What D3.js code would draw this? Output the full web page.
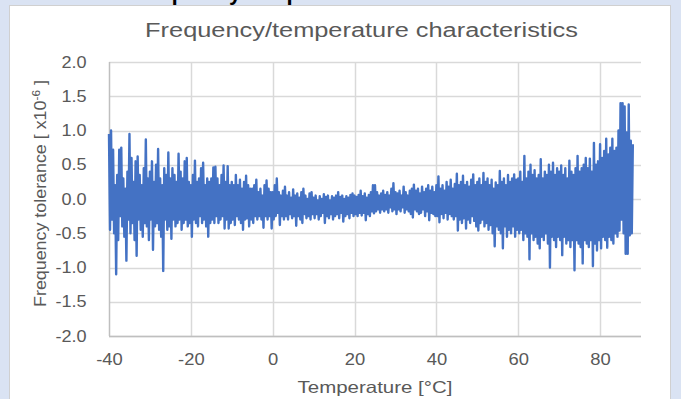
<!DOCTYPE html>
<html>
<head>
<meta charset="utf-8">
<script src="https://cdn.jsdelivr.net/npm/d3@7"></script>
<style>
  html, body { margin: 0; padding: 0; background: #dae3f3; }
  svg { display: block; }
</style>
</head>
<body>
<svg id="chart" width="681" height="399"></svg>
<script>
// axis settings
const xTicks = [-40, -20, 0, 20, 40, 60, 80];
const yTicks = [-2.0, -1.5, -1.0, -0.5, 0.0, 0.5, 1.0, 1.5, 2.0];
const tStart = -40;   // first sample [°C]
const tStep = 0.25;   // sample spacing [°C]

// frequency tolerance [x10^-6], one value per sample
// (20 samples = 5 °C per row)
const tolerance = [
  0.95, -0.45, 1.00, -0.30, 0.72, -0.50, 0.20, -1.10, 0.35, -0.60, 0.72, -0.25, 0.75, -0.40, 0.30, -0.55, 0.15, -0.90, 0.40, -0.30,
  0.95, -0.50, 0.60, -0.35, 0.25, -0.60, 0.55, -0.83, 0.62, -0.30, 0.35, -0.45, 0.20, -0.55, 0.45, -0.35, 0.87, -0.40, 0.30, -0.60,
  0.40, -0.30, 0.55, -0.74, 0.25, -0.40, 0.50, -0.35, 0.73, -0.45, 0.30, -0.55, 0.20, -1.05, 0.45, -0.30, 0.35, -0.45, 0.68, -0.40,
  0.30, -0.58, 0.45, -0.30, 0.35, -0.40, 0.25, -0.35, 0.66, -0.30, 0.40, -0.45, 0.30, -0.35, 0.55, -0.30, 0.60, -0.40, 0.25, -0.35,
  0.20, -0.55, 0.35, -0.30, 0.56, -0.35, 0.25, -0.40, 0.30, -0.25, 0.45, -0.35, 0.53, -0.30, 0.20, -0.40, 0.30, -0.55, 0.25, -0.35,
  0.30, -0.30, 0.46, -0.35, 0.47, -0.25, 0.30, -0.35, 0.20, -0.30, 0.35, -0.25, 0.49, -0.43, 0.25, -0.30, 0.48, -0.43, 0.20, -0.35,
  0.25, -0.30, 0.20, -0.38, 0.35, -0.25, 0.20, -0.30, 0.28, -0.35, 0.15, -0.45, 0.25, -0.30, 0.34, -0.28, 0.20, -0.40, 0.15, -0.30,
  0.15, -0.35, 0.20, -0.25, 0.28, -0.30, 0.10, -0.25, 0.15, -0.30, 0.05, -0.42, 0.20, -0.25, 0.27, -0.30, 0.15, -0.25, 0.10, -0.43,
  0.10, -0.30, 0.20, -0.25, 0.30, -0.20, 0.10, -0.38, 0.05, -0.25, 0.12, -0.30, 0.18, -0.25, 0.05, -0.30, 0.10, -0.22, 0.02, -0.28,
  0.14, -0.25, 0.05, -0.39, 0.08, -0.25, 0.02, -0.30, 0.10, -0.35, 0.15, -0.22, 0.05, -0.28, 0.00, -0.25, 0.08, -0.30, 0.10, -0.22,
  0.02, -0.28, 0.05, -0.22, -0.02, -0.30, 0.04, -0.25, 0.00, -0.20, 0.07, -0.35, 0.03, -0.25, 0.05, -0.28, -0.02, -0.22, 0.04, -0.30,
  0.02, -0.25, 0.05, -0.22, 0.10, -0.28, 0.03, -0.20, 0.05, -0.33, 0.00, -0.25, 0.04, -0.22, 0.02, -0.28, 0.06, -0.20, 0.08, -0.25,
  0.05, -0.22, 0.03, -0.25, 0.06, -0.20, 0.12, -0.24, 0.04, -0.20, 0.08, -0.31, 0.02, -0.22, 0.06, -0.25, 0.10, -0.18, 0.20, -0.21,
  0.20, -0.18, 0.10, -0.15, 0.05, -0.20, 0.08, -0.15, 0.12, -0.18, 0.06, -0.15, 0.10, -0.20, 0.05, -0.12, 0.15, -0.18, 0.23, -0.15,
  0.10, -0.22, 0.08, -0.15, 0.12, -0.18, 0.05, -0.12, 0.18, -0.20, 0.10, -0.15, 0.05, -0.18, 0.12, -0.22, 0.15, -0.27, 0.21, -0.15,
  0.12, -0.18, 0.15, -0.22, 0.08, -0.20, 0.18, -0.15, 0.10, -0.25, 0.15, -0.18, 0.20, -0.31, 0.12, -0.20, 0.18, -0.22, 0.10, -0.25,
  0.20, -0.25, 0.33, -0.34, 0.15, -0.22, 0.20, -0.28, 0.12, -0.20, 0.25, -0.30, 0.18, -0.22, 0.28, -0.25, 0.15, -0.30, 0.22, -0.25,
  0.37, -0.46, 0.20, -0.30, 0.25, -0.35, 0.34, -0.28, 0.20, -0.43, 0.25, -0.30, 0.18, -0.35, 0.28, -0.25, 0.36, -0.32, 0.20, -0.40,
  0.25, -0.46, 0.30, -0.35, 0.20, -0.30, 0.38, -0.40, 0.25, -0.35, 0.30, -0.45, 0.20, -0.38, 0.28, -0.50, 0.15, -0.69, 0.24, -0.40,
  0.20, -0.45, 0.41, -0.50, 0.25, -0.72, 0.30, -0.40, 0.20, -0.55, 0.35, -0.45, 0.25, -0.50, 0.30, -0.40, 0.36, -0.55, 0.28, -0.45,
  0.30, -0.50, 0.40, -0.45, 0.25, -0.60, 0.63, -0.50, 0.30, -0.55, 0.40, -0.88, 0.50, -0.50, 0.35, -0.60, 0.42, -0.55, 0.30, -0.65,
  0.35, -0.72, 0.58, -0.55, 0.30, -0.60, 0.40, -0.50, 0.35, -0.65, 0.50, -1.00, 0.40, -0.55, 0.53, -0.60, 0.35, -0.70, 0.45, -0.55,
  0.40, -0.60, 0.49, -0.82, 0.35, -0.55, 0.45, -0.65, 0.30, -0.60, 0.56, -0.70, 0.40, -0.60, 0.35, -1.04, 0.45, -0.60, 0.63, -0.65,
  0.40, -0.70, 0.45, -0.94, 0.50, -0.60, 0.60, -0.65, 0.45, -0.70, 0.59, -0.60, 0.40, -0.98, 0.82, -0.65, 0.50, -0.75, 0.55, -0.60,
  0.80, -0.72, 0.60, -0.55, 0.70, -0.60, 0.88, -0.71, 0.65, -0.55, 0.75, -0.60, 0.88, -0.65, 0.70, -0.50, 0.75, -0.55, 1.00, -0.46,
  1.40, -0.30, 1.40, -0.50, 1.35, -0.80, 0.97, -0.80, 1.38, -0.53, 0.85, -0.50, 0.80
];

const data = tolerance.map((v, i) => ({ t: tStart + i * tStep, v: v }));

const svg = d3.select('#chart');
const font = 'Liberation Sans, Arial, sans-serif';
const grey = '#595959';
const hyphen = (s) => s.replace('\u2212', '-');

// stretch a centred text horizontally (in its own frame) to a given length
function fitLength(sel, len) {
  const w = sel.node().getComputedTextLength();
  const t = sel.attr('data-pos');
  sel.attr('transform', t + ' scale(' + (len / w) + ',1)');
}

// cut-off heading above the chart panel
svg.append('text')
  .attr('x', 130)
  .attr('y', -0.5)
  .attr('font-family', font)
  .attr('font-size', 22)
  .attr('font-weight', 'bold')
  .attr('fill', '#000')
  .text('Frequency/temperature');

// white chart panel
svg.append('rect')
  .attr('x', 9.5)
  .attr('y', 5.5)
  .attr('width', 661)
  .attr('height', 400)
  .attr('fill', '#fff')
  .attr('stroke', '#d0d0d0');

const x = d3.scaleLinear().domain([-40, 90]).range([109, 641]);
const y = d3.scaleLinear().domain([-2, 2]).range([336, 62]);

// horizontal gridlines
svg.append('g')
  .selectAll('line')
  .data(yTicks)
  .enter()
  .append('line')
    .attr('x1', x(-40))
    .attr('x2', x(90))
    .attr('y1', (d) => Math.round(y(d)) + 0.5)
    .attr('y2', (d) => Math.round(y(d)) + 0.5)
    .attr('stroke', '#d9d9d9')
    .attr('stroke-width', 1.5);

// vertical gridlines
svg.append('g')
  .selectAll('line')
  .data(xTicks)
  .enter()
  .append('line')
    .attr('x1', (d) => Math.round(x(d)) + 0.5)
    .attr('x2', (d) => Math.round(x(d)) + 0.5)
    .attr('y1', y(2))
    .attr('y2', y(-2))
    .attr('stroke', (d) => d == -40 ? '#bfbfbf' : '#d9d9d9')
    .attr('stroke-width', 1.5);

// bottom axis line
svg.append('line')
  .attr('x1', x(-40))
  .attr('x2', x(90))
  .attr('y1', Math.round(y(-2)) + 0.5)
  .attr('y2', Math.round(y(-2)) + 0.5)
  .attr('stroke', '#bfbfbf')
  .attr('stroke-width', 1.5);

// X axis labels
const xAxis = svg.append('g')
  .attr('transform', 'translate(0,' + (y(-2) + 15) + ')')
  .call(d3.axisBottom(x).tickValues(xTicks).tickSize(0).tickFormat((d) => hyphen(d3.format('d')(d))));
xAxis.select('.domain').remove();
xAxis.selectAll('text')
  .attr('font-family', font)
  .attr('font-size', 16)
  .attr('fill', grey)
  .attr('transform', 'scale(1.15,1)');

// Y axis labels
const yAxis = svg.append('g')
  .attr('transform', 'translate(' + (x(-40) - 19) + ',0)')
  .call(d3.axisLeft(y).tickValues(yTicks).tickSize(0).tickFormat((d) => hyphen(d3.format('.1f')(d))));
yAxis.select('.domain').remove();
yAxis.selectAll('text')
  .attr('font-family', font)
  .attr('font-size', 16)
  .attr('fill', grey)
  .attr('transform', 'scale(1.13,1)');

// trace
const line = d3.line()
  .x((d) => x(d.t))
  .y((d) => y(d.v));
svg.append('path')
  .datum(data)
  .attr('d', line)
  .attr('fill', 'none')
  .attr('stroke', '#4472c4')
  .attr('stroke-width', 2.4)
  .attr('stroke-linejoin', 'round');

// title
const title = svg.append('text')
  .attr('data-pos', 'translate(361.5,37)')
  .attr('text-anchor', 'middle')
  .attr('font-family', font)
  .attr('font-size', 21)
  .attr('fill', grey)
  .text('Frequency/temperature characteristics');
fitLength(title, 433);

// axis titles
const xTitle = svg.append('text')
  .attr('data-pos', 'translate(375,393)')
  .attr('text-anchor', 'middle')
  .attr('font-family', font)
  .attr('font-size', 16.5)
  .attr('fill', grey)
  .text('Temperature [°C]');
fitLength(xTitle, 155);

const yTitle = svg.append('text')
  .attr('data-pos', 'translate(46,193.5) rotate(-90)')
  .attr('text-anchor', 'middle')
  .attr('font-family', font)
  .attr('font-size', 16.5)
  .attr('fill', grey);
yTitle.append('tspan').text('Frequency tolerance [ x10');
yTitle.append('tspan').attr('dy', -6).attr('font-size', 11).text('-6');
yTitle.append('tspan').attr('dy', 6).text(' ]');
fitLength(yTitle, 227);
</script>
</body>
</html>
